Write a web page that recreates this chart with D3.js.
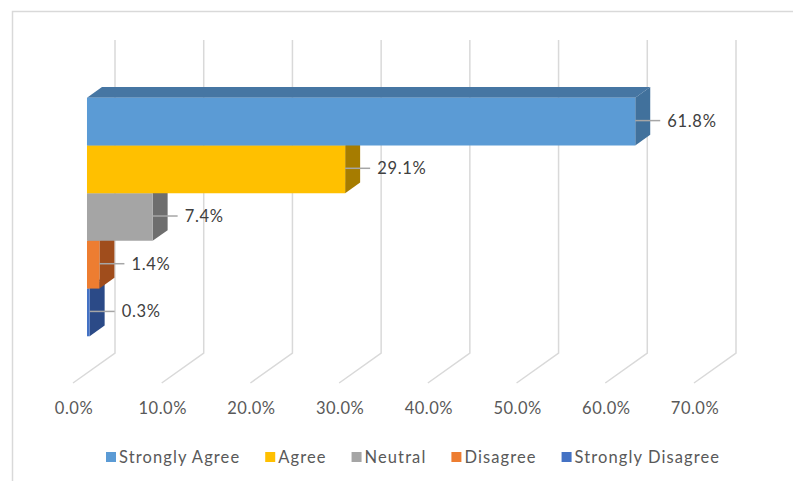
<!DOCTYPE html>
<html>
<head>
<meta charset="utf-8">
<script src="https://d3js.org/d3.v7.min.js"></script>
<style>
  body { margin: 0; background: #fff; }
  svg text { font-family: Lato, 'Open Sans', sans-serif; }
</style>
</head>
<body>
<div id="chart"></div>
<script>
// survey answers, one series each
const seriesNames = ["Strongly Agree", "Agree", "Neutral", "Disagree", "Strongly Disagree"];
const seriesValues = [61.8, 29.1, 7.4, 1.4, 0.3];
const tickValues = [0, 10, 20, 30, 40, 50, 60, 70];

const W = 793, H = 481;
const svg = d3.select("#chart").append("svg")
  .attr("width", W).attr("height", H);

// chart area frame (only left and top edge are in view)
svg.append("path")
  .attr("d", `M12.5,${H} V11.5 H${W}`)
  .attr("fill", "none").attr("stroke", "#D9D9D9").attr("stroke-width", 1.5);

// back wall scales
const x = d3.scaleLinear().domain([0, 70]).range([115, 736]);
const y = d3.scaleBand().domain(seriesNames).range([41, 353])
  .paddingInner(0).paddingOuter(0.77);

// depth vector from back wall to front edge of floor
const DX = -42, DY = 30;
const FRONT = 0.667, BACK = 0.31;
const P = (v, yy, d) => [x(v) + DX * d, yy + DY * d];

const frontColor = d3.scaleOrdinal().domain(seriesNames)
  .range(["#5B9BD5", "#FFC000", "#A5A5A5", "#ED7D31", "#4472C4"]);
const sideColor = d3.scaleOrdinal().domain(seriesNames)
  .range(["#41719C", "#A67C00", "#6E6E6E", "#A04D1C", "#2B4A87"]);
const topColor = d3.scaleOrdinal().domain(seriesNames)
  .range(["#4676A3", "#BF9000", "#7C7C7C", "#B25B22", "#2F5597"]);

// gridlines: back wall + floor
const grid = svg.append("g");
tickValues.forEach(t => {
  const a = P(t, 40, 0), b = P(t, 353, 0), c = P(t, 353, 1);
  grid.append("polyline")
    .attr("points", [a, b, c].map(p => p.join(",")).join(" "))
    .attr("fill", "none").attr("stroke", "#D9D9D9").attr("stroke-width", 1.5);
});

// axis labels along front edge
svg.append("g").selectAll("text").data(tickValues).join("text")
  .attr("x", d => P(d, 0, 1)[0] + 1)
  .attr("y", 414)
  .attr("text-anchor", "middle")
  .attr("font-size", 16.5)
  .attr("letter-spacing", 0.5)
  .attr("fill", "#595959")
  .text(d => d3.format(".1f")(d) + "%");

const poly = pts => pts.map(p => p.join(",")).join(" ");

// bars, bottom one first so upper bars cover it
const bars = svg.append("g");
const order = seriesNames.map((n, i) => i).reverse();
order.forEach(i => {
  const name = seriesNames[i], v = seriesValues[i];
  const y0 = y(name), y1 = y0 + y.bandwidth();
  bars.append("polygon")
    .attr("points", poly([P(0, y0, FRONT), P(0, y0, BACK), P(v, y0, BACK), P(v, y0, FRONT)]))
    .attr("fill", topColor(name));
  bars.append("polygon")
    .attr("points", poly([P(v, y0, FRONT), P(v, y0, BACK), P(v, y1, BACK), P(v, y1, FRONT)]))
    .attr("fill", sideColor(name));
  bars.append("polygon")
    .attr("points", poly([P(0, y0, FRONT), P(v, y0, FRONT), P(v, y1, FRONT), P(0, y1, FRONT)]))
    .attr("fill", frontColor(name));
});

// data labels with leader lines
const lab = svg.append("g");
seriesNames.forEach((name, i) => {
  const v = seriesValues[i];
  const ym = y(name) + y.bandwidth() / 2 - 1;
  const [fx, fy] = P(v, ym, FRONT);
  lab.append("line")
    .attr("x1", fx).attr("y1", fy).attr("x2", fx + 25).attr("y2", fy)
    .attr("stroke", "#A6A6A6").attr("stroke-width", 1.5);
  lab.append("text")
    .attr("x", fx + 32).attr("y", fy + 6)
    .attr("font-size", 16.5)
    .attr("letter-spacing", 0.7)
    .attr("fill", "#404040")
    .text(d3.format(".1f")(v) + "%");
});

// legend
const legend = svg.append("g").attr("transform", "translate(0,457)");
let lx = 106;
seriesNames.forEach(name => {
  const g = legend.append("g").attr("transform", `translate(${lx},0)`);
  g.append("rect").attr("x", 0).attr("y", -5).attr("width", 10).attr("height", 10)
    .attr("fill", frontColor(name));
  const t = g.append("text").attr("x", 13).attr("y", 6)
    .attr("font-size", 16.5).attr("letter-spacing", 1.1)
    .attr("fill", "#595959").text(name);
  lx += 13 + t.node().getComputedTextLength() + 25;
});
</script>
</body>
</html>
